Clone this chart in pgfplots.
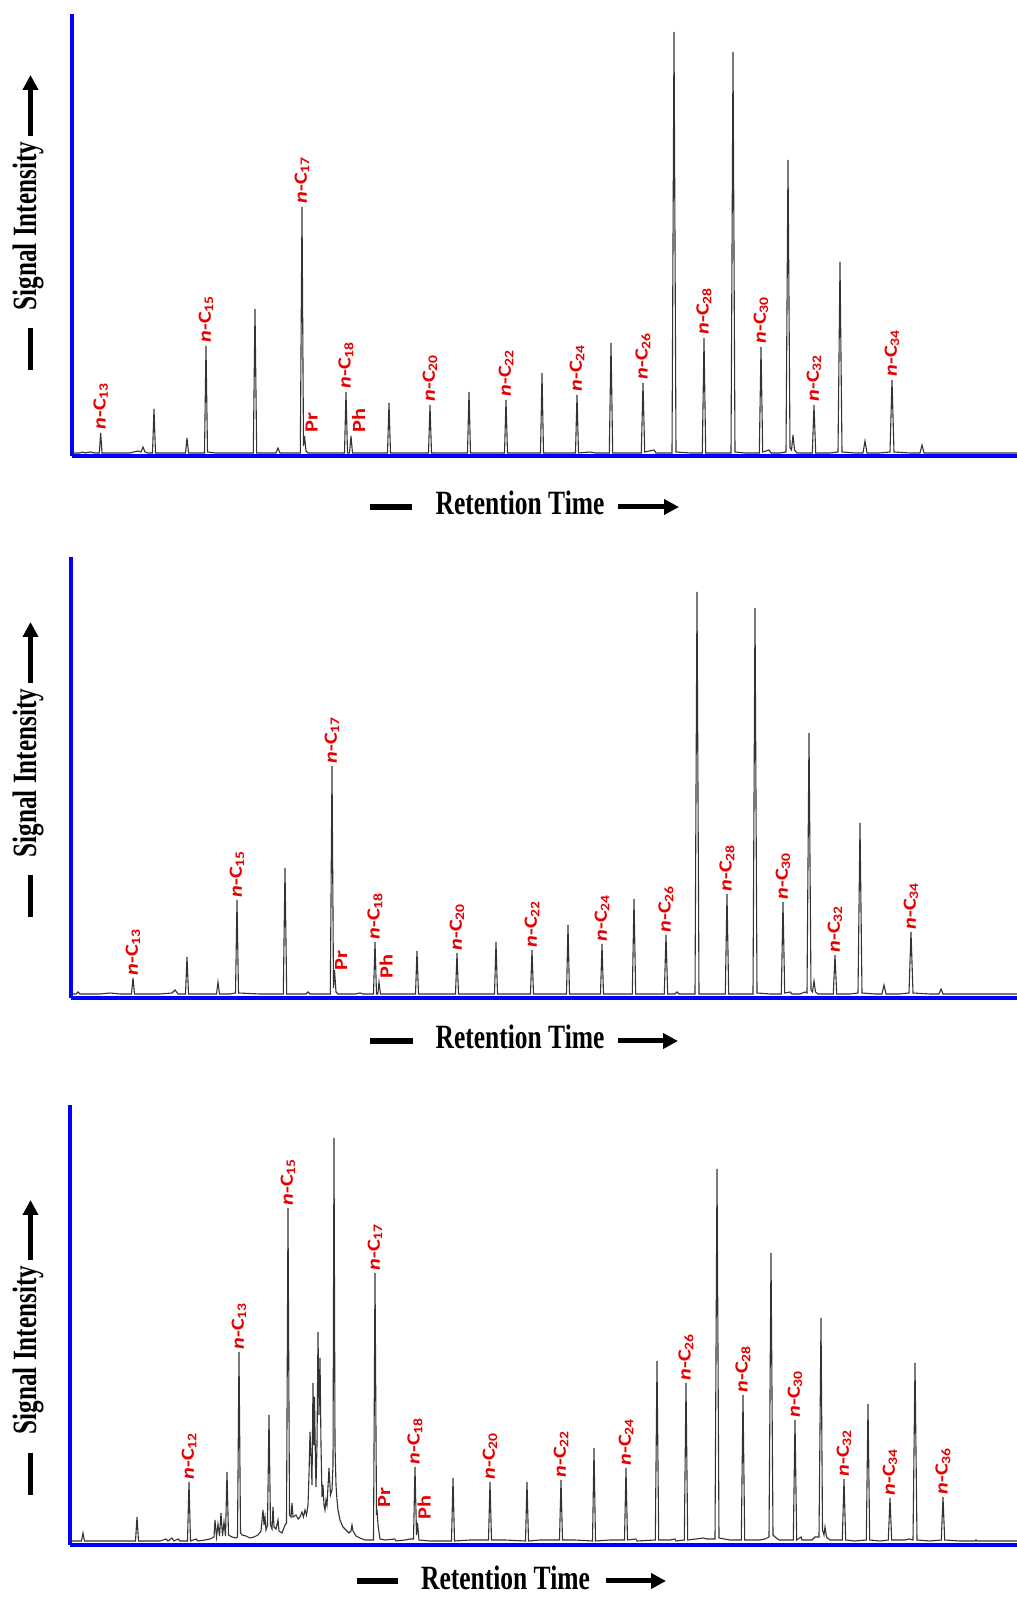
\documentclass[border=0pt]{standalone}
\usepackage{fontspec}
\setmainfont{Liberation Serif}
\newfontfamily\lblfont{Carlito}
\usepackage{graphicx}
\usepackage{pgfplots}
\pgfplotsset{compat=1.18}
\usetikzlibrary{arrows.meta}
\definecolor{lblred}{RGB}{230,0,0}
\definecolor{axblue}{RGB}{0,0,255}
\newcommand{\nC}[1]{\scalebox{1.2}[1]{\textit{n}-C\textsubscript{#1}}}
\newcommand{\ab}[1]{\scalebox{1.2}[1]{#1}}
\newcommand{\axfont}{\fontsize{17pt}{20pt}\selectfont\bfseries}
\pgfplotsset{
 chrom/.style={scale only axis, xtick=\empty, ytick=\empty, axis lines=left,
   axis line style={-, draw=axblue, line width=1.7pt}, clip=false, ymin=0, anchor=south west},
 trace/.style={black!80, line width=0.55pt, mark=none},
}
\tikzset{lbl/.style={rotate=90, anchor=west, inner sep=0pt, text=lblred,
  font=\lblfont\fontsize{9.3pt}{10pt}\selectfont\bfseries}}
\begin{document}
\begin{tikzpicture}
% ---------------- Panel 1 ----------------
\begin{axis}[chrom, at={(36pt,570.5pt)}, width=472.5pt, height=221pt, xmin=72, xmax=1017, ymax=442]
\addplot[trace] coordinates {(72,3)(80,3)(82,4)(85,3)(90,4)(95,3)(99.3,3)(100.7,23)(102,3)(115,3)(130,3)(138,5)(141,4)(143,9)(145,4)(148,3)(152.5,3)(154,47)(155.5,3)(170,3)(185.5,3)(187,18)(188.5,3)(200,3)(204.5,3)(206,110)(207.5,4)(215,3)(230,3)(240,3)(253.3,3)(255,147)(256.7,3)(270,3)(276,3)(278,8)(280,3)(290,3)(300.3,3)(302,249)(303.5,10)(304.5,20)(306,5)(308,3)(320,3)(330,3)(344.5,3)(346,64)(347.5,3)(349.5,3)(351,20)(352.5,3)(370,3)(387.5,3)(389,53)(390.5,3)(410,3)(428.5,3)(430,51)(431.5,3)(450,3)(467.5,3)(469,64)(470.5,3)(490,3)(504.5,3)(506,56)(507.5,3)(525,3)(540.5,3)(542,83)(543.5,3)(560,3)(575.5,3)(577,61)(578.5,3)(590,4)(595,3)(609.3,3)(611,113)(612.7,3)(630,3)(641.3,3)(643,73)(644.7,4)(654,6)(656,3)(672,3)(674,424)(676,4)(690,3)(702.3,3)(704,118)(705.7,3)(720,3)(731,3)(733,404)(735,4)(745,3)(759.3,3)(761,109)(762.7,4)(769,6)(771,3)(780,3)(786,4)(788,296)(790,8)(791.5,6)(793,21)(794.5,6)(797,3)(805,3)(812.3,3)(814,51)(815.7,3)(830,3)(838,4)(840,194)(842,4)(855,3)(863,3)(865,15)(867,3)(880,3)(890,4)(892,76)(894,4)(910,3)(920,3)(922,11)(924,3)(950,3)(1017,3)};
\node[lbl] at (axis cs:100.7,26) {\nC{13}};
\node[lbl] at (axis cs:206,113) {\nC{15}};
\node[lbl] at (axis cs:302,252) {\nC{17}};
\node[lbl] at (axis cs:311.5,23) {\ab{Pr}};
\node[lbl] at (axis cs:346,67) {\nC{18}};
\node[lbl] at (axis cs:358.5,23) {\ab{Ph}};
\node[lbl] at (axis cs:430,54) {\nC{20}};
\node[lbl] at (axis cs:506,59) {\nC{22}};
\node[lbl] at (axis cs:577,64) {\nC{24}};
\node[lbl] at (axis cs:643,76) {\nC{26}};
\node[lbl] at (axis cs:704,121) {\nC{28}};
\node[lbl] at (axis cs:761,112) {\nC{30}};
\node[lbl] at (axis cs:814,54) {\nC{32}};
\node[lbl] at (axis cs:892,79) {\nC{34}};
\end{axis}
% ---------------- Panel 2 ----------------
\begin{axis}[chrom, at={(35.5pt,299.5pt)}, width=473pt, height=220.5pt, xmin=71, xmax=1017, ymax=441]
\addplot[trace] coordinates {(71,4)(76,4)(78,6)(80,4)(100,4)(110,5)(120,4)(131.5,4)(133,20)(134.5,4)(160,4)(172,5)(175,8)(178,4)(185.5,4)(187,41)(188.5,4)(200,4)(216.5,4)(218,16)(219.5,4)(230,4)(235.5,5)(237,98)(238.5,5)(260,4)(283.3,4)(285,130)(286.7,4)(300,4)(306,4)(308,6)(310,4)(320,4)(330.3,4)(332,232)(333.5,10)(334.5,28)(336,6)(338,4)(355,4)(360,5)(363,4)(373.5,4)(375,56)(376.5,4)(377.8,4)(379,16)(380.5,4)(400,4)(415.5,4)(417,47)(418.5,4)(440,4)(455.5,4)(457,45)(458.5,4)(480,4)(494.5,4)(496,56)(497.5,4)(515,4)(530.5,4)(532,48)(533.5,4)(550,4)(566.5,4)(568,73)(569.5,4)(585,4)(600.5,4)(602,54)(603.5,4)(615,4)(632.3,4)(634,99)(635.7,4)(650,4)(664.3,4)(666,63)(667.7,4)(675,4)(677,6)(679,4)(695,4)(697,406)(699,4)(715,4)(725.3,4)(727,104)(728.7,4)(740,4)(753,4)(755,390)(757,5)(770,4)(781.3,4)(783,96)(784.7,5)(790,6)(792,4)(800,4)(805,6)(807,5)(809,265)(811,8)(812.5,6)(814,17)(815.5,6)(818,4)(825,4)(833.3,4)(835,43)(836.7,4)(850,4)(858,5)(860,175)(862,5)(875,4)(882,4)(884,13)(886,4)(900,4)(909,5)(911,66)(913,5)(930,4)(939,4)(941,9)(943,4)(970,4)(1017,4)};
\node[lbl] at (axis cs:133,22) {\nC{13}};
\node[lbl] at (axis cs:237,100) {\nC{15}};
\node[lbl] at (axis cs:332,234) {\nC{17}};
\node[lbl] at (axis cs:341,27) {\ab{Pr}};
\node[lbl] at (axis cs:375,58) {\nC{18}};
\node[lbl] at (axis cs:386,19) {\ab{Ph}};
\node[lbl] at (axis cs:457,47) {\nC{20}};
\node[lbl] at (axis cs:532,50) {\nC{22}};
\node[lbl] at (axis cs:602,56) {\nC{24}};
\node[lbl] at (axis cs:666,65) {\nC{26}};
\node[lbl] at (axis cs:727,106) {\nC{28}};
\node[lbl] at (axis cs:783,98) {\nC{30}};
\node[lbl] at (axis cs:835,45) {\nC{32}};
\node[lbl] at (axis cs:911,68) {\nC{34}};
\end{axis}
% ---------------- Panel 3 ----------------
\begin{axis}[chrom, at={(35pt,26pt)}, width=473.5pt, height=220pt, xmin=70, xmax=1017, ymax=440]
\addplot[trace] coordinates {(70,4)(80,4)(81.5,4)(83,12)(84.5,4)(100,4)(120,4)(135.5,4)(137,28)(138.5,4)(160,4)(166,6)(168,4)(172,7)(174,4)(178,6)(180,4)(187.5,4)(189,63)(190.5,4)(196,6)(198,4)(205,5)(210,6)(214,8)(215,25)(216.5,8)(218,21)(219.5,9)(221,32)(222.5,9)(224,23)(225.5,9)(227,73)(228.5,10)(232,8)(236,7)(237.5,8)(239,193)(240.5,12)(242,10)(246,9)(250,7)(254,8)(258,10)(261,14)(263,35)(264,20)(265,28)(266,15)(267.5,20)(269,130)(270.5,20)(272,16)(273,38)(274,18)(276,16)(278,25)(279,14)(282,12)(285,20)(286.5,22)(288,337)(289.5,30)(291,28)(292,42)(293,28)(296,30)(298,26)(300,28)(302,33)(303.5,28)(305,35)(306.5,30)(308,40)(309,70)(310,113)(311,90)(312,60)(313,162)(313.8,100)(314.5,148)(315.5,80)(316,58)(317,100)(318,213)(319,130)(320,187)(321,100)(322,48)(323,60)(324,40)(325,35)(326,45)(327,40)(329,77)(330.5,50)(332,55)(333,80)(334,407)(335,100)(336,60)(337,45)(338,35)(340,25)(343,18)(346,15)(349,12)(351,14)(352,20)(353,14)(356,9)(360,7)(365,5)(370,5)(373.5,5)(375,272)(376.5,30)(377,35)(378,20)(380,6)(385,5)(395,6)(396,4)(405,5)(410,6)(413.5,6)(415,78)(416.5,10)(417.5,22)(419,5)(430,4)(440,4)(451.5,4)(453,67)(454.5,4)(470,5)(480,5)(488.5,5)(490,63)(491.5,5)(505,5)(525.5,4)(527,63)(528.5,4)(540,5)(552,5)(559.5,5)(561,65)(562.5,5)(575,5)(592.5,4)(594,97)(595.5,4)(610,5)(624.5,5)(626,77)(627.5,5)(636,6)(637,4)(655.3,5)(657,184)(658.7,5)(670,5)(675,6)(676,4)(684.3,5)(686,162)(687.7,5)(696,6)(703,7)(707,6)(715,6)(717,376)(719,7)(730,5)(741.3,5)(743,150)(744.7,5)(760,5)(765,6)(769,8)(771,292)(773,10)(775,8)(779,5)(786,5)(793.3,5)(795,125)(796.7,5)(801,8)(802,5)(812,5)(815,8)(819,8)(821,227)(822.5,15)(824,10)(825,18)(826.5,8)(830,5)(842.3,5)(844,66)(845.7,5)(855,4)(866.3,5)(868,141)(869.7,5)(880,4)(888.3,5)(890,47)(891.7,5)(905,5)(909,6)(913,5)(915,182)(917,5)(930,4)(941.3,5)(943,48)(944.7,5)(960,4)(975,4)(976,5)(977,4)(1017,4)};
\node[lbl] at (axis cs:189,65) {\nC{12}};
\node[lbl] at (axis cs:239,195) {\nC{13}};
\node[lbl] at (axis cs:288,339) {\nC{15}};
\node[lbl] at (axis cs:375,274) {\nC{17}};
\node[lbl] at (axis cs:384,37) {\ab{Pr}};
\node[lbl] at (axis cs:415,80) {\nC{18}};
\node[lbl] at (axis cs:424,25) {\ab{Ph}};
\node[lbl] at (axis cs:490,65) {\nC{20}};
\node[lbl] at (axis cs:561,67) {\nC{22}};
\node[lbl] at (axis cs:626,79) {\nC{24}};
\node[lbl] at (axis cs:686,164) {\nC{26}};
\node[lbl] at (axis cs:743,152) {\nC{28}};
\node[lbl] at (axis cs:795,127) {\nC{30}};
\node[lbl] at (axis cs:844,68) {\nC{32}};
\node[lbl] at (axis cs:890,49) {\nC{34}};
\node[lbl] at (axis cs:943,50) {\nC{36}};
\end{axis}
% ---------------- axis titles (pixel coordinates) ----------------
\begin{scope}[x=0.5pt, y=-0.5pt, yshift=798.5pt]
\tikzset{thickdash/.style={line width=2.8pt}, thickarr/.style={line width=2.5pt, -{Triangle[length=7.5pt,width=7.5pt]}}}
% panel 1
\node[anchor=base, font=\axfont, inner sep=0pt] at (520,515) {\scalebox{0.75}[1]{Retention Time}};
\draw[thickdash] (370,507) -- (412,507);
\draw[thickarr] (618,507) -- (679,507);
\node[rotate=90, anchor=base, font=\axfont, inner sep=0pt] at (36,226) {\scalebox{0.74}[1]{Signal Intensity}};
\draw[thickdash] (30.5,328) -- (30.5,370);
\draw[thickarr] (30.5,136) -- (30.5,75);
% panel 2
\node[anchor=base, font=\axfont, inner sep=0pt] at (520,1049) {\scalebox{0.75}[1]{Retention Time}};
\draw[thickdash] (370,1041) -- (413,1041);
\draw[thickarr] (618,1041) -- (678,1041);
\node[rotate=90, anchor=base, font=\axfont, inner sep=0pt] at (36,773) {\scalebox{0.74}[1]{Signal Intensity}};
\draw[thickdash] (30.5,875) -- (30.5,917);
\draw[thickarr] (30.5,683) -- (30.5,622);
% panel 3
\node[anchor=base, font=\axfont, inner sep=0pt] at (505.5,1589) {\scalebox{0.75}[1]{Retention Time}};
\draw[thickdash] (357,1581) -- (398,1581);
\draw[thickarr] (606,1581) -- (666,1581);
\node[rotate=90, anchor=base, font=\axfont, inner sep=0pt] at (36,1350) {\scalebox{0.74}[1]{Signal Intensity}};
\draw[thickdash] (30.5,1453) -- (30.5,1495);
\draw[thickarr] (30.5,1260) -- (30.5,1200);
\end{scope}
\pgfresetboundingbox
\path[use as bounding box] (0,0) rectangle (508.5pt,798.5pt);
\end{tikzpicture}
\end{document}
